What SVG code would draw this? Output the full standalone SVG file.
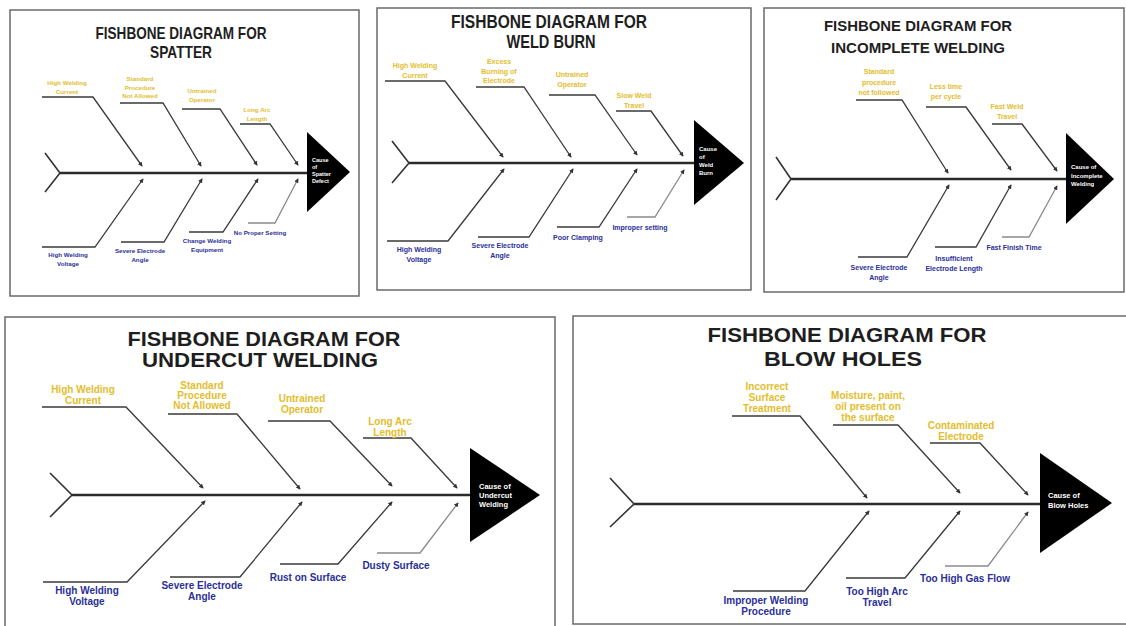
<svg xmlns="http://www.w3.org/2000/svg" width="1126" height="626" viewBox="0 0 1126 626">
<defs>
<style>
.frame{fill:#fff;stroke:#6a6a6a;stroke-width:1.5}
.title{font-family:"Liberation Sans",Arial,sans-serif;font-weight:bold;fill:#1e1e1e;text-anchor:middle}
.spine{fill:none;stroke:#2a2a2a;stroke-width:2.6}
.tail{fill:none;stroke:#333;stroke-width:1.6}
.bone{fill:none;stroke:#3a3a3a;stroke-width:1.3;marker-end:url(#ah)}
.bone.lt{stroke:#8a8a8a}
.head{fill:#000}
.ht{font-family:"Liberation Sans",Arial,sans-serif;font-weight:bold;fill:#fff;dominant-baseline:central}
.cy{font-family:"Liberation Sans",Arial,sans-serif;font-weight:bold;fill:#e3bd2c;text-anchor:middle;dominant-baseline:central}
.cb{font-family:"Liberation Sans",Arial,sans-serif;font-weight:bold;fill:#2b2f96;text-anchor:middle;dominant-baseline:central}
.s1{font-size:6.2px}
.s2{font-size:7px}
.s4{font-size:10px}
</style>
<marker id="ah" viewBox="0 0 6 6" refX="5" refY="3" markerWidth="3.5" markerHeight="3.5" orient="auto"><path d="M0,0 L6,3 L0,6 z" fill="#333"/></marker>
</defs>
<rect width="1126" height="626" fill="#fff"/>

<!-- Panel 1 : Spatter -->
<g id="panel-spatter">
<rect class="frame" x="10" y="10" width="349" height="286"/>
<g id="p1-title">
<text class="title" x="181" y="39" font-size="16.5" textLength="171" lengthAdjust="spacingAndGlyphs">FISHBONE DIAGRAM FOR</text>
<text class="title" x="181" y="58" font-size="16.5" textLength="62" lengthAdjust="spacingAndGlyphs">SPATTER</text>
</g>
<g id="p1-connectors">
<path class="spine" d="M60,173 H307"/>
<path class="tail" d="M45,153 L60,173 L45,192"/>
<path class="bone" d="M42,97 H93 L142,166"/>
<path class="bone" d="M120,103 H163 L201,166"/>
<path class="bone" d="M182,109 H220 L257,165"/>
<path class="bone" d="M240,124 H270 L298,165"/>
<path class="bone" d="M42,247 H95 L143,179"/>
<path class="bone" d="M121,242 H164 L202,179"/>
<path class="bone" d="M189,232 H223 L258,179"/>
<path class="bone lt" d="M248,223 H275 L298,179"/>
</g>
<g id="p1-effect">
<polygon class="head" points="307,132 350,172 307,212"/>
<text class="ht" font-size="5.5"><tspan x="312" y="160">Cause</tspan><tspan x="312" y="167">of</tspan><tspan x="312" y="174">Spatter</tspan><tspan x="312" y="181">Defect</tspan></text>
</g>
<g id="p1-c1"><text class="cy s1"><tspan x="67" y="82">High Welding</tspan><tspan x="67" y="90.5">Current</tspan></text></g>
<g id="p1-c2"><text class="cy s1"><tspan x="140" y="78">Standard</tspan><tspan x="140" y="86.5">Procedure</tspan><tspan x="140" y="95">Not Allowed</tspan></text></g>
<g id="p1-c3"><text class="cy s1"><tspan x="202" y="90">Untrained</tspan><tspan x="202" y="98.5">Operator</tspan></text></g>
<g id="p1-c4"><text class="cy s1"><tspan x="257" y="109">Long Arc</tspan><tspan x="257" y="117.5">Length</tspan></text></g>
<g id="p1-c5"><text class="cb s1"><tspan x="68" y="254">High Welding</tspan><tspan x="68" y="263">Voltage</tspan></text></g>
<g id="p1-c6"><text class="cb s1"><tspan x="140" y="250">Severe Electrode</tspan><tspan x="140" y="259">Angle</tspan></text></g>
<g id="p1-c7"><text class="cb s1"><tspan x="207" y="240">Change Welding</tspan><tspan x="207" y="249">Equipment</tspan></text></g>
<g id="p1-c8"><text class="cb s1"><tspan x="260" y="232">No Proper Setting</tspan></text></g>
</g>

<!-- Panel 2 : Weld Burn -->
<g id="panel-weldburn">
<rect class="frame" x="377" y="8" width="374" height="282"/>
<g id="p2-title">
<text class="title" x="549" y="28" font-size="18" textLength="196" lengthAdjust="spacingAndGlyphs">FISHBONE DIAGRAM FOR</text>
<text class="title" x="551" y="48" font-size="18" textLength="89" lengthAdjust="spacingAndGlyphs">WELD BURN</text>
</g>
<g id="p2-connectors">
<path class="spine" d="M409,163 H694"/>
<path class="tail" d="M392,141 L409,163 L392,183"/>
<path class="bone" d="M385,81 H445 L503,157"/>
<path class="bone" d="M476,87 H524 L571,157"/>
<path class="bone" d="M549,95 H595 L637,155"/>
<path class="bone" d="M616,111 H651 L683,156"/>
<path class="bone" d="M387,241 H448 L504,169"/>
<path class="bone" d="M478,237 H529 L573,169"/>
<path class="bone" d="M557,227 H599 L637,169"/>
<path class="bone lt" d="M627,217 H655 L684,170"/>
</g>
<g id="p2-effect">
<polygon class="head" points="694,120 744,163 694,205"/>
<text class="ht" font-size="6"><tspan x="699" y="149">Cause</tspan><tspan x="699" y="157">of</tspan><tspan x="699" y="165">Weld</tspan><tspan x="699" y="173">Burn</tspan></text>
</g>
<g id="p2-c1"><text class="cy s2"><tspan x="415" y="65">High Welding</tspan><tspan x="415" y="74.5">Current</tspan></text></g>
<g id="p2-c2"><text class="cy s2"><tspan x="499" y="61">Excess</tspan><tspan x="499" y="70.5">Burning of</tspan><tspan x="499" y="80">Electrode</tspan></text></g>
<g id="p2-c3"><text class="cy s2"><tspan x="572" y="74">Untrained</tspan><tspan x="572" y="83.5">Operator</tspan></text></g>
<g id="p2-c4"><text class="cy s2"><tspan x="634" y="95">Slow Weld</tspan><tspan x="634" y="104.5">Travel</tspan></text></g>
<g id="p2-c5"><text class="cb s2"><tspan x="419" y="249">High Welding</tspan><tspan x="419" y="259">Voltage</tspan></text></g>
<g id="p2-c6"><text class="cb s2"><tspan x="500" y="245">Severe Electrode</tspan><tspan x="500" y="255">Angle</tspan></text></g>
<g id="p2-c7"><text class="cb s2"><tspan x="578" y="237">Poor Clamping</tspan></text></g>
<g id="p2-c8"><text class="cb s2"><tspan x="640" y="227">Improper setting</tspan></text></g>
</g>

<!-- Panel 3 : Incomplete Welding -->
<g id="panel-incomplete">
<rect class="frame" x="764" y="8" width="360" height="284"/>
<g id="p3-title">
<text class="title" x="918" y="31" font-size="15.5" textLength="188" lengthAdjust="spacingAndGlyphs">FISHBONE DIAGRAM FOR</text>
<text class="title" x="918" y="53" font-size="15.5" textLength="174" lengthAdjust="spacingAndGlyphs">INCOMPLETE WELDING</text>
</g>
<g id="p3-connectors">
<path class="spine" d="M791,179 H1066"/>
<path class="tail" d="M776,157 L791,179 L776,200"/>
<path class="bone" d="M856,100 H902 L948,173"/>
<path class="bone" d="M926,107 H966 L1011,170"/>
<path class="bone" d="M992,124 H1022 L1057,171"/>
<path class="bone" d="M858,257 H907 L949,185"/>
<path class="bone" d="M935,247 H976 L1011,185"/>
<path class="bone lt" d="M1002,237 H1029 L1057,186"/>
</g>
<g id="p3-effect">
<polygon class="head" points="1066,133 1114,179 1066,224"/>
<text class="ht" font-size="6"><tspan x="1071" y="167">Cause of</tspan><tspan x="1071" y="175.5">Incomplete</tspan><tspan x="1071" y="184">Welding</tspan></text>
</g>
<g id="p3-c1"><text class="cy s2"><tspan x="879" y="71">Standard</tspan><tspan x="879" y="81.5">procedure</tspan><tspan x="879" y="92">not followed</tspan></text></g>
<g id="p3-c2"><text class="cy s2"><tspan x="946" y="86">Less time</tspan><tspan x="946" y="95.5">per cycle</tspan></text></g>
<g id="p3-c3"><text class="cy s2"><tspan x="1007" y="106">Fast Weld</tspan><tspan x="1007" y="116">Travel</tspan></text></g>
<g id="p3-c4"><text class="cb s2"><tspan x="879" y="267">Severe Electrode</tspan><tspan x="879" y="277">Angle</tspan></text></g>
<g id="p3-c5"><text class="cb s2"><tspan x="954" y="258">Insufficient</tspan><tspan x="954" y="268">Electrode Length</tspan></text></g>
<g id="p3-c6"><text class="cb s2"><tspan x="1014" y="247">Fast Finish Time</tspan></text></g>
</g>

<!-- Panel 4 : Undercut Welding -->
<g id="panel-undercut">
<rect class="frame" x="5" y="317" width="550" height="320"/>
<g id="p4-title">
<text class="title" x="264" y="346" font-size="21" textLength="273" lengthAdjust="spacingAndGlyphs">FISHBONE DIAGRAM FOR</text>
<text class="title" x="260" y="367" font-size="21" textLength="236" lengthAdjust="spacingAndGlyphs">UNDERCUT WELDING</text>
</g>
<g id="p4-connectors">
<path class="spine" d="M72,495 H470"/>
<path class="tail" d="M50,473 L72,495 L50,517"/>
<path class="bone" d="M42,407 H126 L203,488"/>
<path class="bone" d="M168,414 H237 L300,489"/>
<path class="bone" d="M268,421 H330 L392,486"/>
<path class="bone" d="M363,438 H411 L457,488"/>
<path class="bone" d="M43,582 H127 L205,501"/>
<path class="bone" d="M170,577 H240 L302,502"/>
<path class="bone" d="M280,564 H338 L392,502"/>
<path class="bone lt" d="M377,553 H420 L458,503"/>
</g>
<g id="p4-effect">
<polygon class="head" points="470,448 540,495 470,542"/>
<text class="ht" font-size="7.5"><tspan x="479" y="486">Cause of</tspan><tspan x="479" y="495">Undercut</tspan><tspan x="479" y="504">Welding</tspan></text>
</g>
<g id="p4-c1"><text class="cy s4"><tspan x="83" y="389">High Welding</tspan><tspan x="83" y="400">Current</tspan></text></g>
<g id="p4-c2"><text class="cy s4"><tspan x="202" y="385">Standard</tspan><tspan x="202" y="395">Procedure</tspan><tspan x="202" y="405">Not Allowed</tspan></text></g>
<g id="p4-c3"><text class="cy s4"><tspan x="302" y="398">Untrained</tspan><tspan x="302" y="409">Operator</tspan></text></g>
<g id="p4-c4"><text class="cy s4"><tspan x="390" y="421">Long Arc</tspan><tspan x="390" y="432">Length</tspan></text></g>
<g id="p4-c5"><text class="cb s4"><tspan x="87" y="590">High Welding</tspan><tspan x="87" y="601">Voltage</tspan></text></g>
<g id="p4-c6"><text class="cb s4"><tspan x="202" y="585">Severe Electrode</tspan><tspan x="202" y="596">Angle</tspan></text></g>
<g id="p4-c7"><text class="cb s4"><tspan x="308" y="577">Rust on Surface</tspan></text></g>
<g id="p4-c8"><text class="cb s4"><tspan x="396" y="565">Dusty Surface</tspan></text></g>
</g>

<!-- Panel 5 : Blow Holes -->
<g id="panel-blowholes">
<rect class="frame" x="573" y="316" width="560" height="308"/>
<g id="p5-title">
<text class="title" x="847" y="342" font-size="21" textLength="279" lengthAdjust="spacingAndGlyphs">FISHBONE DIAGRAM FOR</text>
<text class="title" x="843" y="366" font-size="21" textLength="158" lengthAdjust="spacingAndGlyphs">BLOW HOLES</text>
</g>
<g id="p5-connectors">
<path class="spine" d="M634,504 H1040"/>
<path class="tail" d="M610,478 L634,504 L610,527"/>
<path class="bone" d="M732,416 H800 L867,498"/>
<path class="bone" d="M833,425 H898 L960,493"/>
<path class="bone" d="M930,443 H980 L1028,495"/>
<path class="bone" d="M733,591 H805 L869,511"/>
<path class="bone" d="M846,578 H905 L960,511"/>
<path class="bone lt" d="M945,566 H988 L1028,512"/>
</g>
<g id="p5-effect">
<polygon class="head" points="1040,453 1112,503 1040,553"/>
<text class="ht" font-size="7.5"><tspan x="1048" y="495">Cause of</tspan><tspan x="1048" y="505">Blow Holes</tspan></text>
</g>
<g id="p5-c1"><text class="cy s4"><tspan x="767" y="386">Incorrect</tspan><tspan x="767" y="397">Surface</tspan><tspan x="767" y="408">Treatment</tspan></text></g>
<g id="p5-c2"><text class="cy s4"><tspan x="868" y="395">Moisture, paint,</tspan><tspan x="868" y="406">oil present on</tspan><tspan x="868" y="417">the surface</tspan></text></g>
<g id="p5-c3"><text class="cy s4"><tspan x="961" y="425">Contaminated</tspan><tspan x="961" y="436">Electrode</tspan></text></g>
<g id="p5-c4"><text class="cb s4"><tspan x="766" y="600">Improper Welding</tspan><tspan x="766" y="611">Procedure</tspan></text></g>
<g id="p5-c5"><text class="cb s4"><tspan x="877" y="591">Too High Arc</tspan><tspan x="877" y="602">Travel</tspan></text></g>
<g id="p5-c6"><text class="cb s4"><tspan x="965" y="578">Too High Gas Flow</tspan></text></g>
</g>
</svg>
